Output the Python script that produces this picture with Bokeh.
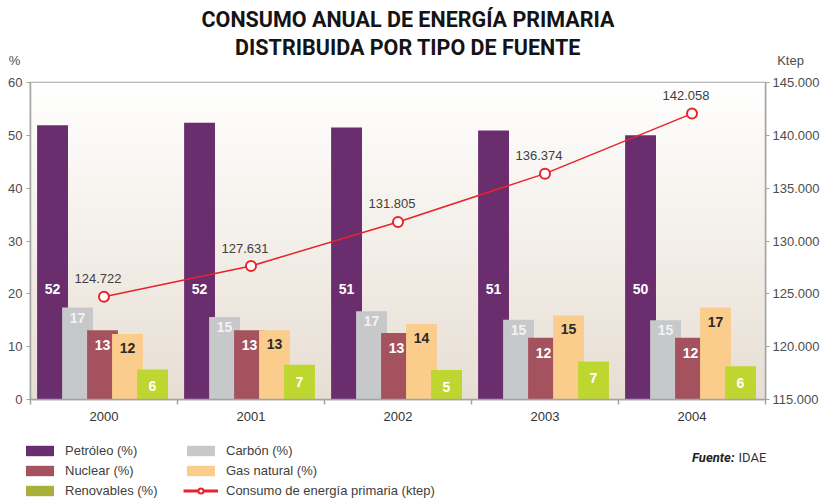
from bokeh.plotting import figure
from bokeh.layouts import column
from bokeh.models import (Range1d, LinearAxis, FixedTicker, ColumnDataSource, LabelSet,
                          Legend, LegendItem, BoxAnnotation)
from bokeh.core.properties import value
from bokeh.embed import file_html
from bokeh.resources import INLINE

# ---------------- data ----------------
years = ["2000", "2001", "2002", "2003", "2004"]
petroleo = [51.9, 52.4, 51.5, 50.9, 50.0]
carbon = [17.4, 15.6, 16.7, 15.1, 15.0]
nuclear = [13.1, 13.1, 12.6, 11.7, 11.7]
gas_natural = [12.4, 13.1, 14.3, 15.9, 17.4]
renovables = [5.7, 6.6, 5.6, 7.2, 6.3]

petroleo_lbl = ["52", "52", "51", "51", "50"]
carbon_lbl = ["17", "15", "17", "15", "15"]
nuclear_lbl = ["13", "13", "13", "12", "12"]
gas_lbl = ["12", "13", "14", "15", "17"]
renovables_lbl = ["6", "7", "5", "7", "6"]

consumo = [124722, 127631, 131805, 136374, 142058]

left_ticks = [0, 10, 20, 30, 40, 50, 60]
right_ticks = [115000, 120000, 125000, 130000, 135000, 140000, 145000]

series_names = ["Petróleo (%)", "Carbón (%)", "Nuclear (%)", "Gas natural (%)", "Renovables (%)"]
line_name = "Consumo de energía primaria (ktep)"
title_lines = ["CONSUMO ANUAL DE ENERGÍA PRIMARIA", "DISTRIBUIDA POR TIPO DE FUENTE"]
left_unit = "%"
right_unit = "Ktep"
source_label = "Fuente:"
source_name = "IDAE"

# ---------------- styles ----------------
W = 824
FONT = "Liberation Sans"
TITLE_FONT = "Roboto"
AXIS_C = "#A3A3A3"
TXT_C = "#4D4D4D"
bar_colors = ["#6A2D6E", "#C7C8CA", "#A5525F", "#FBCD8C", "#BED630"]
legend_colors = ["#6A2D6E", "#C7C8CA", "#A5525F", "#FBCD8C", "#A9B03A"]
lbl_colors = ["white", "#F2F2F2", "white", "#2A2A2A", "white"]
offsets = [-0.35, -0.18, -0.01, 0.16, 0.33]
bar_w = 0.21
lbl_yoff = [0, -10, -15, -14, -17]
LINE_C = "#E8232A"


def fmt_es(v):
    return f"{v:,}".replace(",", ".")


def blank_fig(h):
    f = figure(width=W, height=h, x_range=Range1d(0, W), y_range=Range1d(h, 0),
               output_backend="svg", toolbar_location=None, min_border=0,
               x_axis_location=None, y_axis_location=None, frame_align=False)
    f.outline_line_color = None
    f.grid.visible = False
    f.background_fill_color = "white"
    f.border_fill_color = "white"
    return f


# ---------------- header figure ----------------
top = blank_fig(70)
top.text(x=[407.5, 407.5], y=[19, 47], text=title_lines, text_align="center",
         text_baseline="middle", text_font=value(TITLE_FONT), text_font_style="bold",
         text_font_size="21.5px", text_color="#141414")
top.text(x=[14, 790], y=[60, 60], text=[left_unit, right_unit], text_align="center",
         text_baseline="middle", text_font=value(FONT), text_font_size="13px",
         text_color=TXT_C)

# ---------------- main chart ----------------
p = figure(width=W, height=360, x_range=Range1d(0, 5), y_range=Range1d(0, 60),
           output_backend="svg", toolbar_location=None, frame_align=False,
           min_border_left=30, min_border_right=59, min_border_top=12, min_border_bottom=31)
p.extra_y_ranges = {"ktep": Range1d(right_ticks[0], right_ticks[-1])}
p.background_fill_color = "#FFFFFF"
p.border_fill_color = "#FFFFFF"
p.outline_line_color = AXIS_C
p.outline_line_width = 1.5
p.grid.visible = False

# background gradient (pure styling), overlapping bands to avoid seams
nb = 60
top_rgb = (255, 255, 255)
bot_rgb = (231, 222, 211)
for i in range(nb):
    t = (i + 0.5) / nb
    c = tuple(int(round(bot_rgb[k] + (top_rgb[k] - bot_rgb[k]) * t)) for k in range(3))
    p.add_layout(BoxAnnotation(bottom=60 * i / nb, top=min(60, 60 * (i + 1.6) / nb),
                               fill_color="#%02X%02X%02X" % c, fill_alpha=1.0,
                               line_alpha=0, level="underlay"))

yax = p.yaxis[0]
yax.ticker = FixedTicker(ticks=left_ticks)
yax.major_tick_in = 0
yax.major_tick_out = 4
yax.minor_tick_line_color = None
yax.major_label_standoff = 4
yax.axis_line_color = AXIS_C
yax.axis_line_width = 1.5
yax.major_tick_line_color = AXIS_C
yax.major_label_text_font = FONT
yax.major_label_text_font_size = "13px"
yax.major_label_text_color = TXT_C

xax = p.xaxis[0]
centers = [i + 0.5 for i in range(len(years))]
xax.ticker = FixedTicker(ticks=centers, minor_ticks=list(range(len(years) + 1)))
xax.major_label_overrides = {c: y for c, y in zip(centers, years)}
xax.major_tick_line_color = None
xax.major_tick_in = 0
xax.major_tick_out = 0
xax.minor_tick_in = 0
xax.minor_tick_out = 5
xax.minor_tick_line_color = AXIS_C
xax.minor_tick_line_width = 1.5
xax.axis_line_color = AXIS_C
xax.axis_line_width = 1.5
xax.major_label_standoff = 7
xax.major_label_text_font = FONT
xax.major_label_text_font_size = "13px"
xax.major_label_text_color = "#333333"

rax = LinearAxis(y_range_name="ktep", ticker=FixedTicker(ticks=right_ticks))
rax.major_label_overrides = {t: fmt_es(t) for t in right_ticks}
rax.major_tick_in = 0
rax.major_tick_out = 4
rax.minor_tick_line_color = None
rax.major_label_standoff = 3
rax.axis_line_color = AXIS_C
rax.axis_line_width = 1.5
rax.major_tick_line_color = AXIS_C
rax.major_label_text_font = FONT
rax.major_label_text_font_size = "13px"
rax.major_label_text_color = TXT_C
p.add_layout(rax, "right")

all_vals = [petroleo, carbon, nuclear, gas_natural, renovables]
all_lbls = [petroleo_lbl, carbon_lbl, nuclear_lbl, gas_lbl, renovables_lbl]
for k, (vals, lbls) in enumerate(zip(all_vals, all_lbls)):
    xs = [c + offsets[k] for c in centers]
    ly = [21] * len(vals) if k == 0 else vals
    src = ColumnDataSource(dict(x=xs, top=vals, lbl=lbls, ly=ly))
    p.vbar(x="x", top="top", width=bar_w, source=src, fill_color=bar_colors[k], line_color=None)
    p.add_layout(LabelSet(x="x", y="ly", text="lbl", source=src, text_align="center",
                          text_baseline="middle", y_offset=lbl_yoff[k],
                          text_font=value(FONT), text_font_style="bold",
                          text_font_size="14px", text_color=lbl_colors[k]))

lsrc = ColumnDataSource(dict(x=centers, y=consumo, lbl=[fmt_es(v) for v in consumo]))
p.line(x="x", y="y", source=lsrc, y_range_name="ktep", line_color=LINE_C, line_width=1.5)
p.scatter(x="x", y="y", source=lsrc, y_range_name="ktep", size=10, marker="circle",
          fill_color="white", line_color=LINE_C, line_width=2)
p.add_layout(LabelSet(x="x", y="y", text="lbl", source=lsrc, y_range_name="ktep",
                      text_align="center", text_baseline="middle", x_offset=-6, y_offset=18,
                      text_font=value(FONT), text_font_size="13px", text_color="#404040"))

# ---------------- footer: legend + source ----------------
bot = blank_fig(70)
# legend swatch renderers: one point placed off-canvas so only the legend glyph shows
off = dict(x=[-1000], top=[0])
leg_r = [bot.vbar(x=off["x"], top=off["top"], width=1, fill_color=legend_colors[k],
                  line_color=None) for k in range(5)]
lr_line = bot.line(x=[-1000, -999], y=[0, 0], line_color=LINE_C, line_width=3)
lr_pt = bot.scatter(x=[-1000], y=[0], size=9, marker="circle", fill_color="white",
                    line_color=LINE_C, line_width=2)


def make_legend(items, loc):
    lg = Legend(items=items, location=loc, orientation="vertical",
                glyph_width=35, glyph_height=13, label_height=13, spacing=5,
                label_standoff=8, padding=0, margin=0,
                border_line_color=None, background_fill_alpha=0,
                label_text_font=FONT, label_text_font_size="13px",
                label_text_color="#404040")
    bot.add_layout(lg, "center")


make_legend([LegendItem(label=series_names[0], renderers=[leg_r[0]]),
             LegendItem(label=series_names[2], renderers=[leg_r[2]]),
             LegendItem(label=series_names[4], renderers=[leg_r[4]])], (22, 2))
make_legend([LegendItem(label=series_names[1], renderers=[leg_r[1]]),
             LegendItem(label=series_names[3], renderers=[leg_r[3]]),
             LegendItem(label=line_name, renderers=[lr_line, lr_pt])], (183, 2))

bot.text(x=[734], y=[27], text=[source_label], text_align="right", text_baseline="middle",
         text_font=value(TITLE_FONT), text_font_style="bold italic", text_font_size="13px",
         text_color="#222222")
bot.text(x=[738], y=[27], text=[source_name], text_align="left", text_baseline="middle",
         text_font=value(TITLE_FONT), text_font_size="13px", text_color="#333333")

layout = column(top, p, bot, spacing=0)
open("out.html", "w").write(file_html(layout, INLINE))
